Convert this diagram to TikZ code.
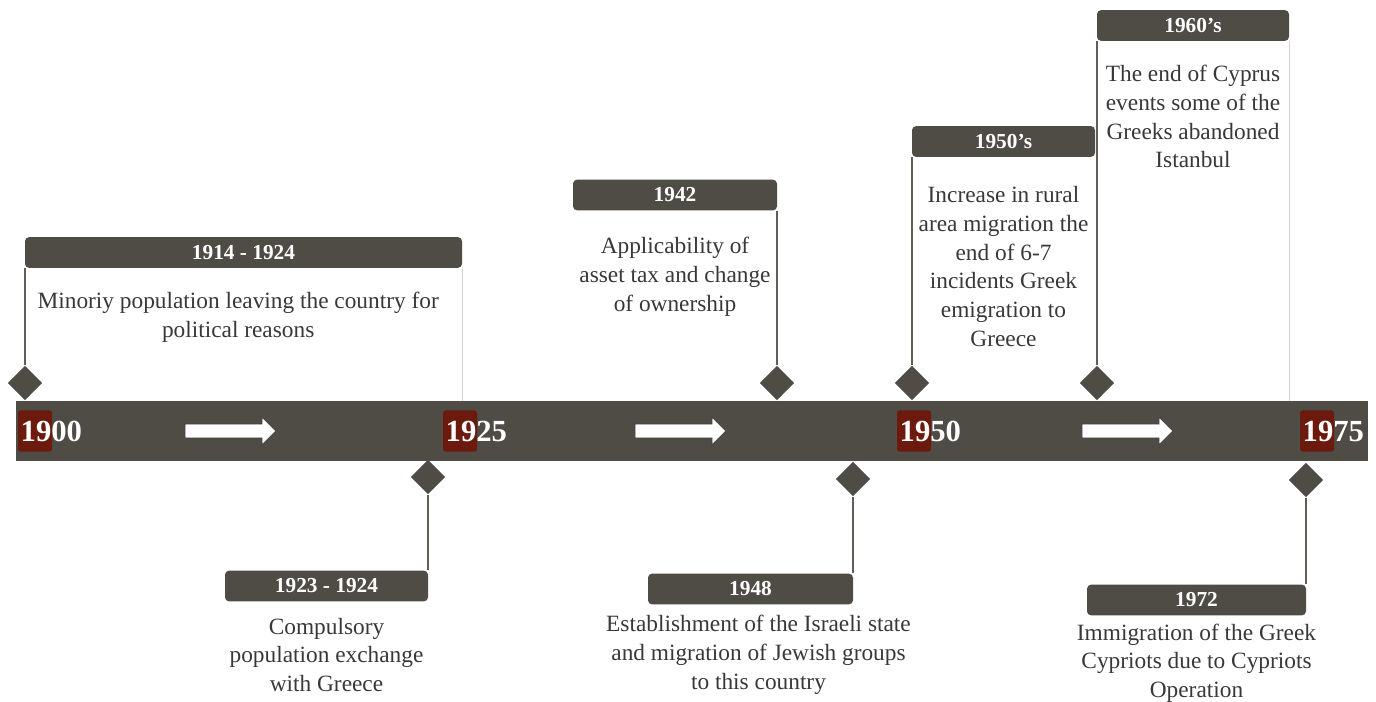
\documentclass[tikz,border=0pt]{standalone}
\usepackage{fontspec}
\setmainfont{Liberation Serif}
\usetikzlibrary{positioning,shapes.geometric,shapes.arrows}
\definecolor{bargray}{HTML}{4F4C45}
\definecolor{yearred}{HTML}{6C1A0E}
\definecolor{bodytext}{HTML}{383838}
\tikzset{
    bar/.style={fill=bargray, minimum width=1014pt, minimum height=45pt, inner sep=0pt},
    redbox/.style={fill=yearred, rounded corners=2pt, minimum width=25.5pt, minimum height=31pt, inner sep=0pt},
    year/.style={text=white, font=\fontsize{23}{25}\selectfont\bfseries, inner sep=0pt},
    fwd/.style={single arrow, fill=white, draw=bargray!60!black, line width=0.4pt, minimum height=68pt, inner sep=5pt, single arrow head extend=5pt},
    rhomb/.style={diamond, fill=bargray, minimum size=26pt, inner sep=0pt},
    header/.style={fill=bargray, rounded corners=3pt, text=white, minimum height=23pt, inner sep=0pt, font=\fontsize{16}{18}\selectfont\bfseries},
    body/.style={text=bodytext, align=center, inner sep=0pt, font=\fontsize{17.5}{21.5}\selectfont},
    stem/.style={draw=bargray!90, line width=1.1pt},
    faint/.style={draw=gray!35, line width=0.8pt}
}
\begin{document}
\begin{tikzpicture}[x=0.75pt, y=-0.75pt]
    \useasboundingbox (0,0) rectangle (1376,702);
    \node[bar] (bar) at (692,431) {};
    \foreach \xa/\yr in {35/1900, 460/1925, 914/1950, 1317/1975}{
        \node[redbox] (r\yr) at (\xa,431) {};
        \node[year, anchor=west] (y\yr) at ([xshift=2pt]r\yr.west) {\yr};
    }
    \foreach \xa [count=\i] in {227,677,1124}
        \node[fwd] (a\i) at (\xa,431) {};

    \node[rhomb] (d1900) at (25,383) {};
    \node[rhomb] (d1925) at (428,477) {};
    \node[rhomb] (d1942) at (777,383) {};
    \node[rhomb] (d1948) at (853,479) {};
    \node[rhomb] (d1950) at (912,383) {};
    \node[rhomb] (d1960) at (1097,383) {};
    \node[rhomb] (d1972) at (1306,480) {};

    \node[header, minimum width=327.75pt] (h1914) at (243.5,252.5) {1914 - 1924};
    \node[header, minimum width=153pt] (h1942) at (675,195) {1942};
    \node[header, minimum width=137.25pt] (h1950) at (1003.5,141.5) {1950’s};
    \node[header, minimum width=144pt] (h1960) at (1193,25.5) {1960’s};
    \node[header, minimum width=152.25pt] (h1923) at (326.5,586) {1923 - 1924};
    \node[header, minimum width=153.75pt] (h1948) at (750.5,589) {1948};
    \node[header, minimum width=164.25pt] (h1972) at (1196.5,600) {1972};

    \node[body, below=18pt of h1914, xshift=-4pt] (t1914) {Minoriy population leaving the country for\\political reasons};
    \node[body, below=20pt of h1942] (t1942) {Applicability of\\asset tax and change\\of ownership};
    \node[body, below=22pt of h1950] (t1950) {Increase in rural\\area migration the\\end of 6-7\\incidents Greek\\emigration to\\Greece};
    \node[body, below=18pt of h1960] (t1960) {The end of Cyprus\\events some of the\\Greeks abandoned\\Istanbul};
    \node[body, below=12pt of h1923] (t1923) {Compulsory\\population exchange\\with Greece};
    \node[body, below=8pt of h1948, xshift=6pt] (t1948) {Establishment of the Israeli state\\and migration of Jewish groups\\to this country};
    \node[body, below=6pt of h1972] (t1972) {Immigration of the Greek\\Cypriots due to Cypriots\\Operation};

    \draw[stem] (d1900.north) -- (d1900.north |- h1914.south);
    \draw[faint] (h1914.south east) -- (h1914.south east |- bar.north);
    \draw[stem] (d1942.north) -- (d1942.north |- h1942.south);
    \draw[stem] (d1950.north) -- (d1950.north |- h1950.south);
    \draw[stem] (d1960.north) -- (d1960.north |- h1960.south);
    \draw[faint] (h1960.south east) -- (h1960.south east |- bar.north);
    \draw[stem] (d1925.south) -- (d1925.south |- h1923.north);
    \draw[stem] (d1948.south) -- (d1948.south |- h1948.north);
    \draw[stem] (d1972.south) -- (d1972.south |- h1972.north);
\end{tikzpicture}
\end{document}
